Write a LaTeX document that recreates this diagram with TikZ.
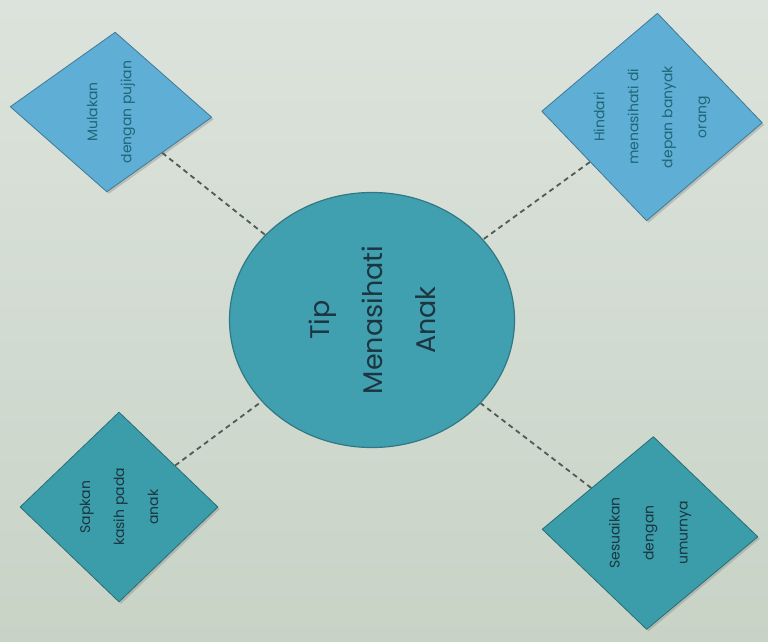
\documentclass[tikz,border=0pt]{standalone}
\usepackage{fontspec}
\setmainfont{Poppins}
\usetikzlibrary{shapes.geometric,shadows}
\definecolor{tmPaperTop}{HTML}{DCE3DC}
\definecolor{tmPaperLow}{HTML}{C8D3C6}
\definecolor{tmSky}{HTML}{5EAED5}
\definecolor{tmTeal}{HTML}{3A9DA9}
\definecolor{tmHub}{HTML}{41A0B0}
\definecolor{tmInk}{HTML}{1C3540}
\definecolor{tmSkyInk}{HTML}{1F6676}
\definecolor{tmDash}{HTML}{4E5B56}
\tikzset{
  tm diagram/.style={x=1pt, y=-1pt, text=tmInk, line join=round},
  tm hub/.style={ellipse, fill=tmHub, draw=tmHub!75!black, line width=1.2pt,
    minimum width=285pt, minimum height=255pt, inner sep=0pt},
  tm tile/.style={diamond, draw=tmTeal!70!black, line width=0.8pt, inner sep=0pt,
    drop shadow={opacity=0.35, shadow xshift=2pt, shadow yshift=-2pt}},
  tm sky tile/.style={tm tile, fill=tmSky, draw=tmSky!70!black},
  tm teal tile/.style={tm tile, fill=tmTeal},
  tm hub text/.style={rotate=90, align=center, font=\fontsize{27}{53}\selectfont},
  tm tile text/.style={rotate=90, align=center, font=\fontsize{14}{34}\selectfont},
  tm link/.style={draw=tmDash, line width=1.8pt, dash pattern=on 5pt off 4pt}
}
\begin{document}
\begin{tikzpicture}[tm diagram]
\useasboundingbox (0,0) rectangle (768,642);
\shade[top color=tmPaperTop, bottom color=tmPaperLow] (0,0) rectangle (768,642);
\node[tm hub] (hub) at (372,320) {};
\node[tm sky tile, minimum width=160pt, minimum height=202pt, rotate=87] (praise) at (111,112) {};
\node[tm sky tile, minimum width=208pt, minimum height=221pt, rotate=87] (crowd) at (652,117) {};
\node[tm teal tile, minimum width=190pt, minimum height=198pt, rotate=90] (love) at (119,507) {};
\node[tm teal tile, minimum width=193pt, minimum height=216pt, rotate=88] (age) at (650,533) {};
\draw[tm link] (praise) -- (hub);
\draw[tm link] (crowd) -- (hub);
\draw[tm link] (love) -- (hub);
\draw[tm link] (age) -- (hub);
\node[tm hub text] (hub-text) at (hub.center) {Tip\\Menasihati\\Anak};
\node[tm tile text, text=tmSkyInk] (praise-text) at (praise.center) {Mulakan\\dengan pujian};
\node[tm tile text, text=tmSkyInk] (crowd-text) at (crowd.center) {Hindari\\menasihati di\\depan banyak\\orang};
\node[tm tile text] (love-text) at (love.center) {Sapkan\\kasih pada\\anak};
\node[tm tile text] (age-text) at (age.center) {Sesuaikan\\dengan\\umurnya};
\end{tikzpicture}
\end{document}
